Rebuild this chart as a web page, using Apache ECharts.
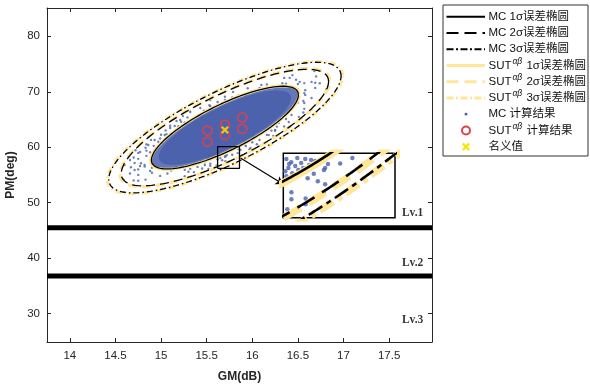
<!DOCTYPE html>
<html>
<head>
<meta charset="utf-8">
<script src="https://cdn.jsdelivr.net/npm/echarts@6/dist/echarts.min.js"></script>
<style>
  html, body { margin: 0; padding: 0; background: #fff; }
  #chart { width: 590px; height: 386px; }
</style>
</head>
<body>
<div id="chart"></div>
<script>
// axis ticks
const xTicks = [14, 14.5, 15, 15.5, 16, 16.5, 17, 17.5];
const yTicks = [30, 40, 50, 60, 70, 80];

// error ellipses: centre, 1σ half sizes, correlation, scale of each level
const ellipseCenter = [15.70, 63.55];
const ellipseSigma = [0.806, 7.45];
const ellipseRho = 0.79;
const ellipseLevels = [1, 1.41, 1.58];
const sutScaleMain = 1.012;
const sutScaleInset = 1.018;
const coreLevels = [1.0, 0.9];

// MC samples outside the dense core
const mcPoints = [
    [16.50, 70.48], [16.29, 71.01], [15.92, 69.51], [15.48, 66.37], [15.11, 62.44], [14.90, 58.76],
    [14.90, 56.32], [15.11, 55.79], [15.48, 57.29], [15.92, 60.43], [16.29, 64.36], [16.50, 68.04],
    [16.57, 69.76], [16.37, 71.44], [15.85, 69.36], [15.26, 64.49], [14.88, 59.11], [14.88, 55.74],
    [15.26, 55.95], [15.85, 59.65], [16.37, 65.10],
    [16.57, 71.56], [16.16, 71.33], [15.54, 67.40], [14.99, 61.59], [14.77, 56.63], [14.99, 54.84],
    [15.54, 57.05], [16.16, 62.24], [16.57, 67.97],
    [15.15, 63.83], [14.84, 59.39], [14.75, 56.01], [15.30, 55.58], [15.78, 58.64], [16.25, 62.97],
    [16.48, 72.18], [16.10, 71.22], [15.62, 68.16],
    [16.69, 71.64], [16.35, 72.50], [15.70, 69.11], [15.05, 63.04], [14.71, 57.15], [14.83, 54.17],
    [15.36, 55.52], [16.05, 60.55], [16.57, 66.92],
    [14.89, 61.33], [14.70, 58.16], [14.70, 54.03], [15.17, 64.74], [16.23, 62.06], [16.51, 65.48],
    [16.70, 72.77], [15.52, 56.11],
    [16.68, 73.73], [15.31, 66.59], [14.72, 59.46], [14.59, 54.17], [14.97, 53.20], [15.70, 57.01],
    [16.81, 70.40],
    [14.66, 57.71], [14.77, 59.15], [14.71, 55.90], [14.86, 60.41], [14.93, 61.31], [14.60, 56.80],
    [14.82, 56.80], [15.04, 62.21], [15.10, 63.47], [15.21, 64.91], [15.32, 66.36], [15.43, 67.08],
    [15.54, 68.53],
    [16.58, 69.44], [16.69, 70.70], [16.74, 68.54], [16.52, 71.79], [16.41, 72.51],
    [15.87, 59.52], [16.08, 61.32], [16.25, 63.13], [15.65, 58.07], [15.98, 59.88], [15.48, 56.80],
    [16.58, 70.29], [16.50, 71.39], [16.33, 71.53], [16.08, 70.69], [15.78, 68.97], [15.47, 66.58],
    [15.19, 63.80], [14.97, 60.98], [14.84, 58.45], [14.82, 56.51], [14.90, 55.41], [15.07, 55.27],
    [15.32, 56.11], [15.62, 57.83], [15.93, 60.22], [16.21, 63.00], [16.43, 65.82], [16.56, 68.35],
    [16.65, 71.78], [15.95, 70.64], [15.00, 62.26], [14.75, 57.91], [14.75, 55.02], [15.45, 56.16],
    [16.40, 64.54], [16.65, 68.89],
    [16.74, 71.54], [16.44, 73.01], [15.79, 69.98], [15.10, 63.87], [14.84, 60.54], [14.66, 55.26],
    [14.75, 53.96], [15.26, 54.78], [15.97, 59.65], [16.56, 66.26],
    [15.29, 65.38], [15.24, 65.62], [14.92, 60.25], [14.83, 59.91], [15.06, 62.36], [14.75, 58.98],
    [14.78, 57.11], [14.67, 56.40], [15.22, 64.59], [15.53, 67.57], [15.70, 68.52],
    [16.00, 60.89], [16.18, 62.19], [15.70, 58.29], [15.40, 56.46], [16.27, 63.72], [16.35, 63.76],
    // inside the magnified window
    [15.515, 58.89], [15.539, 58.72], [15.569, 58.95], [15.525, 58.39], [15.559, 58.50], [15.588, 58.67],
    [15.608, 58.89], [15.637, 58.84], [15.515, 57.94], [15.544, 58.11], [15.574, 58.28], [15.598, 58.39],
    [15.627, 58.56], [15.657, 58.78], [15.529, 58.61], [15.52, 57.72], [15.51, 58.22],
    [15.696, 58.78], [15.72, 58.61], [15.706, 58.39], [15.67, 57.66], [15.706, 57.50], [15.54, 56.66],
    [15.61, 56.71], [15.61, 56.38], [15.84, 58.95]
];
const sutPoints = [[15.51, 63.04], [15.51, 61.01], [15.70, 64.07], [15.70, 62.22], [15.89, 65.35], [15.89, 63.31]];
const nominal = [[15.70, 63.12]];

// requirement levels
const levelLines = [45.5, 36.8];
const levelLabels = [['Lv.1', 17.64, 48.14], ['Lv.2', 17.64, 39.11], ['Lv.3', 17.64, 28.8]];

// magnified window
const zoomBox = [15.62, 15.86, 56.2, 60.1];
const zoomArrow = [[15.871, 58.06], [16.335, 53.39]];
const insetRange = [15.50, 16.05, 55.64, 59.21];

const xRange = [13.75, 17.97];
const yRange = [24.9, 85.1];

const FONT = '"Liberation Sans", Arial, "Noto Sans CJK SC", sans-serif';
const BLACK = '#000';
const GOLD = '#FFE699';
const BLUE = '#4A62AF';
const RED = '#E0404C';

function ellipse(k, n) {
    const pts = [];
    const s = Math.sqrt(1 - ellipseRho * ellipseRho);
    for (let i = 0; i <= n; i++) {
        const t = (2 * Math.PI * i) / n;
        pts.push([
            ellipseCenter[0] + k * ellipseSigma[0] * Math.cos(t),
            ellipseCenter[1] + k * ellipseSigma[1] * (ellipseRho * Math.cos(t) + s * Math.sin(t))
        ]);
    }
    return pts;
}

const mainDash = ['solid', [9, 5], [6, 3, 1.5, 3]];
const insetDash = ['solid', [20, 9], [16, 5, 5, 5]];

const series = [];

// dense MC core
coreLevels.forEach((k, i) => {
    const pts = ellipse(k, 120);
    series.push({
        type: 'custom',
        xAxisIndex: 0,
        yAxisIndex: 0,
        silent: true,
        z: 1,
        data: [ellipseCenter],
        renderItem: (params, api) => ({
            type: 'polygon',
            shape: { points: pts.map((p) => api.coord(p)) },
            style: { fill: i === 0 ? '#6377BA' : '#4C62AD' }
        })
    });
});

series.push({
    type: 'scatter',
    xAxisIndex: 0,
    yAxisIndex: 0,
    data: mcPoints,
    symbolSize: 2.4,
    itemStyle: { color: BLUE },
    z: 2
});

ellipseLevels.forEach((k, i) => {
    series.push({
        type: 'line',
        xAxisIndex: 0,
        yAxisIndex: 0,
        data: ellipse(k * sutScaleMain, 240),
        showSymbol: false,
        lineStyle: { color: GOLD, width: 3.2, type: mainDash[i] },
        z: 3
    });
    series.push({
        type: 'line',
        xAxisIndex: 0,
        yAxisIndex: 0,
        data: ellipse(k, 240),
        showSymbol: false,
        lineStyle: { color: BLACK, width: 1.3, type: mainDash[i] },
        z: 4
    });
});

series.push({
    type: 'scatter',
    xAxisIndex: 0,
    yAxisIndex: 0,
    data: sutPoints,
    symbol: 'circle',
    symbolSize: 9,
    itemStyle: { color: 'rgba(0,0,0,0)', borderColor: RED, borderWidth: 2 },
    z: 5
});
series.push({
    type: 'scatter',
    xAxisIndex: 0,
    yAxisIndex: 0,
    data: nominal,
    symbol: 'path://M2,0 L5,3 L8,0 L10,2 L7,5 L10,8 L8,10 L5,7 L2,10 L0,8 L3,5 L0,2 Z',
    symbolSize: 8,
    itemStyle: { color: '#F7E600' },
    z: 6
});

levelLines.forEach((y) => {
    series.push({
        type: 'line',
        xAxisIndex: 0,
        yAxisIndex: 0,
        data: [[xRange[0], y], [xRange[1], y]],
        showSymbol: false,
        lineStyle: { color: BLACK, width: 5 },
        z: 3
    });
});

series.push({
    type: 'scatter',
    xAxisIndex: 0,
    yAxisIndex: 0,
    data: levelLabels.map((d) => [d[1], d[2], d[0]]),
    symbolSize: 0,
    label: {
        show: true,
        position: 'right',
        distance: 0,
        formatter: (p) => p.data[2],
        fontFamily: '"Liberation Serif", "Times New Roman", serif',
        fontWeight: 'bold',
        fontSize: 11.5,
        color: '#000'
    },
    z: 6
});

// small box + arrow to the inset
series.push({
    type: 'line',
    xAxisIndex: 0,
    yAxisIndex: 0,
    data: [
        [zoomBox[0], zoomBox[2]], [zoomBox[1], zoomBox[2]], [zoomBox[1], zoomBox[3]],
        [zoomBox[0], zoomBox[3]], [zoomBox[0], zoomBox[2]]
    ],
    showSymbol: false,
    lineStyle: { color: BLACK, width: 1.3 },
    z: 7,
    markLine: {
        silent: true,
        symbol: ['none', 'arrow'],
        symbolSize: 7,
        label: { show: false },
        lineStyle: { color: BLACK, width: 1.2, type: 'solid' },
        data: [[{ coord: zoomArrow[0] }, { coord: zoomArrow[1] }]]
    }
});

// inset (magnified view), shares the MC samples shifted with the centre
series.push({
    type: 'scatter',
    xAxisIndex: 2,
    yAxisIndex: 2,
    data: mcPoints,
    symbolSize: 4.5,
    itemStyle: { color: BLUE },
    clip: true,
    z: 10
});
ellipseLevels.forEach((k, i) => {
    series.push({
        type: 'line',
        xAxisIndex: 2,
        yAxisIndex: 2,
        data: ellipse(k * sutScaleInset, 1440),
        showSymbol: false,
        clip: true,
        lineStyle: { color: GOLD, width: 7.5, type: insetDash[i] },
        z: 11
    });
    series.push({
        type: 'line',
        xAxisIndex: 2,
        yAxisIndex: 2,
        data: ellipse(k, 1440),
        showSymbol: false,
        clip: true,
        lineStyle: { color: BLACK, width: 2.6, type: insetDash[i] },
        z: 12
    });
});

// legend drawn as graphic elements
const legendItems = [
    { text: 'MC 1σ误差椭圆', kind: 'line', color: BLACK, width: 2, dash: null },
    { text: 'MC 2σ误差椭圆', kind: 'line', color: BLACK, width: 2, dash: [12, 6] },
    { text: 'MC 3σ误差椭圆', kind: 'line', color: BLACK, width: 2, dash: [7, 2.5, 2, 2.5] },
    { text: 'SUT{sup|αβ} 1σ误差椭圆', kind: 'line', color: GOLD, width: 3, dash: null },
    { text: 'SUT{sup|αβ} 2σ误差椭圆', kind: 'line', color: GOLD, width: 3, dash: [12, 6] },
    { text: 'SUT{sup|αβ} 3σ误差椭圆', kind: 'line', color: GOLD, width: 3, dash: [7, 2.5, 2, 2.5] },
    { text: 'MC 计算结果', kind: 'dot' },
    { text: 'SUT{sup|αβ} 计算结果', kind: 'ring' },
    { text: '名义值', kind: 'cross' }
];
const graphic = [{
    type: 'rect',
    shape: { x: 443, y: 5, width: 145, height: 151 },
    style: { fill: '#fff', stroke: '#333', lineWidth: 1 },
    z: 100
}];
legendItems.forEach((it, i) => {
    const y = 16.7 + i * 16.25;
    if (it.kind === 'line') {
        graphic.push({
            type: 'line',
            shape: { x1: 446.5, y1: y, x2: 485, y2: y },
            style: { stroke: it.color, lineWidth: it.width, lineDash: it.dash },
            z: 101
        });
    } else if (it.kind === 'dot') {
        graphic.push({ type: 'circle', shape: { cx: 466, cy: y, r: 1.4 }, style: { fill: BLUE }, z: 101 });
    } else if (it.kind === 'ring') {
        graphic.push({
            type: 'circle',
            shape: { cx: 466, cy: y, r: 4 },
            style: { fill: 'none', stroke: RED, lineWidth: 2 },
            z: 101
        });
    } else {
        const c = 466, s = 4;
        graphic.push({
            type: 'polygon',
            shape: {
                points: [
                    [c - s + 1.6, y - s], [c, y - 1.6], [c + s - 1.6, y - s], [c + s, y - s + 1.6],
                    [c + 1.6, y], [c + s, y + s - 1.6], [c + s - 1.6, y + s], [c, y + 1.6],
                    [c - s + 1.6, y + s], [c - s, y + s - 1.6], [c - 1.6, y], [c - s, y - s + 1.6]
                ]
            },
            style: { fill: '#F7E600' },
            z: 101
        });
    }
    graphic.push({
        type: 'text',
        x: 488.5,
        y: y,
        z: 101,
        style: {
            text: it.text,
            fill: '#111',
            fontSize: 11.5,
            fontFamily: FONT,
            verticalAlign: 'middle',
            rich: {
                sup: {
                    fontSize: 8.5,
                    fontStyle: 'italic',
                    fontFamily: FONT,
                    fill: '#111',
                    padding: [0, 1, 8, 1]
                }
            }
        }
    });
});

const axisCommon = {
    type: 'value',
    axisLine: { show: true, onZero: false, lineStyle: { color: '#262626', width: 1 } },
    splitLine: { show: false }
};

const chart = echarts.init(document.getElementById('chart'), null, { renderer: 'canvas' });
chart.setOption({
    animation: false,
    backgroundColor: '#fff',
    grid: [
        { left: 47, top: 8, right: 158, bottom: 44, outerBoundsMode: 'none' },
        {
            left: 283.3, top: 153.3, width: 111.7, height: 64.4,
            show: true, borderColor: '#000', borderWidth: 1.5, backgroundColor: '#fff',
            outerBoundsMode: 'none'
        }
    ],
    xAxis: [
        {
            ...axisCommon,
            gridIndex: 0,
            position: 'bottom',
            min: xRange[0],
            max: xRange[1],
            axisTick: { inside: true, length: 4, customValues: xTicks, lineStyle: { color: '#262626' } },
            axisLabel: { customValues: xTicks, color: '#262626', fontSize: 11.5, fontFamily: FONT, margin: 8 },
            name: 'GM(dB)',
            nameLocation: 'middle',
            nameGap: 29,
            nameTextStyle: { color: '#262626', fontSize: 12, fontWeight: 'bold', fontFamily: FONT }
        },
        {
            ...axisCommon,
            gridIndex: 0,
            position: 'top',
            min: xRange[0],
            max: xRange[1],
            axisTick: { inside: true, length: 4, customValues: xTicks, lineStyle: { color: '#262626' } },
            axisLabel: { show: false }
        },
        { type: 'value', gridIndex: 1, min: insetRange[0], max: insetRange[1], show: false }
    ],
    yAxis: [
        {
            ...axisCommon,
            gridIndex: 0,
            position: 'left',
            min: yRange[0],
            max: yRange[1],
            axisTick: { inside: true, length: 4, customValues: yTicks, lineStyle: { color: '#262626' } },
            axisLabel: { customValues: yTicks, color: '#262626', fontSize: 11.5, fontFamily: FONT, margin: 7 },
            name: 'PM(deg)',
            nameLocation: 'middle',
            nameGap: 25,
            nameTextStyle: { color: '#262626', fontSize: 12, fontWeight: 'bold', fontFamily: FONT }
        },
        {
            ...axisCommon,
            gridIndex: 0,
            position: 'right',
            min: yRange[0],
            max: yRange[1],
            axisTick: { inside: true, length: 4, customValues: yTicks, lineStyle: { color: '#262626' } },
            axisLabel: { show: false }
        },
        { type: 'value', gridIndex: 1, min: insetRange[2], max: insetRange[3], show: false }
    ],
    graphic: graphic,
    series: series
});
</script>
</body>
</html>
